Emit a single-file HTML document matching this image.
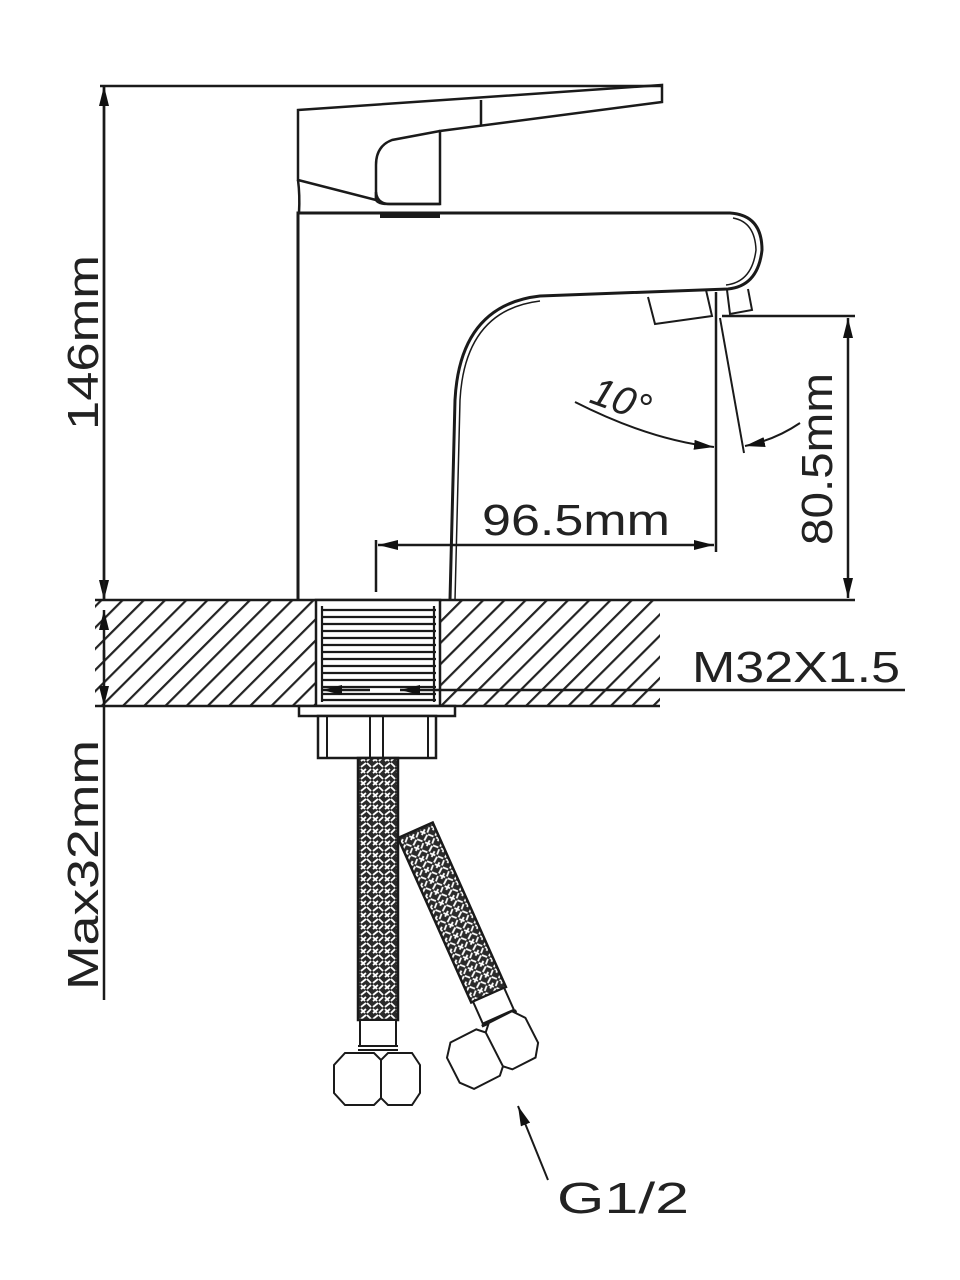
<!DOCTYPE html>
<html><head><meta charset="utf-8"><style>
html,body{margin:0;padding:0;background:#fff;}
svg{display:block;}
text{font-family:"Liberation Sans",sans-serif;fill:#222;}
</style></head><body>
<svg width="960" height="1280" viewBox="0 0 960 1280" xmlns="http://www.w3.org/2000/svg">
<defs>
<pattern id="hatch" patternUnits="userSpaceOnUse" width="15" height="15" patternTransform="rotate(45)">
<line x1="1" y1="0" x2="1" y2="15" stroke="#222" stroke-width="2.4"/>
</pattern>
<pattern id="braid" patternUnits="userSpaceOnUse" width="12" height="12">
<rect width="12" height="12" fill="#2a2a2a"/>
<path d="M1 5 L6 1 M7 5 L11 1 M1 11 L6 7 M7 7 L11 11 M1 1 L5 5" stroke="#fff" stroke-width="1.8" fill="none"/>
</pattern>
<marker id="ar" viewBox="0 0 20 10" refX="20" refY="5" markerWidth="20" markerHeight="10" markerUnits="userSpaceOnUse" orient="auto">
<path d="M0 0 L20 5 L0 10 Z" fill="#111"/>
</marker>
</defs>
<g fill="none" stroke="#1a1a1a" stroke-width="2.5">
<rect x="95" y="600" width="565" height="106" fill="url(#hatch)" stroke="none"/>
<line x1="95" y1="600" x2="855" y2="600"/>
<line x1="95" y1="706" x2="660" y2="706"/>
<rect x="316" y="600" width="124" height="106" fill="#fff" stroke="#1a1a1a"/>
<g stroke-width="2.2">
<path d="M322 610 H436 M322 617 H436 M322 624 H436 M322 631 H436 M322 638 H436 M322 645 H436 M322 652 H436 M322 659 H436 M322 666 H436 M322 673 H436 M322 680 H436 M322 687 H436 M322 694 H436 M322 700 H436"/>
<line x1="322" y1="606" x2="322" y2="702"/><line x1="434" y1="606" x2="434" y2="702"/>
</g>
<line x1="440" y1="690" x2="905" y2="690"/>
<line x1="370" y1="690" x2="322" y2="690" marker-end="url(#ar)"/>
<line x1="440" y1="690" x2="400" y2="690" marker-end="url(#ar)"/>
<path d="M298 110 L662 85 L662 102 L440 131 L440 204 L390 204 Q377 204 376 192 L376 200 L298 180 Z" fill="#fff"/>
<path d="M440 131 L392 140 Q376 146 376 165 L376 200 Q378 204 388 204 L440 204"/>
<line x1="481" y1="100" x2="481" y2="126"/>
<path d="M298 180 Q300 195 299 213"/>
<path d="M298 600 L298 213 L730 213 Q762 215 762 250 Q758 286 728 289 L540 296 Q460 305 455 400 L450 600" stroke-width="3"/>
<path d="M733 218 Q755 222 756 250 Q752 282 726 285 M540 301 Q465 310 460 400 L455 600" stroke-width="1.5"/>
<line x1="380" y1="216" x2="440" y2="216" stroke-width="4"/>
<path d="M648 297 L655 324 L712 316 L706 290 M727 290 L730 314 L752 310 L748 289" stroke-width="2"/>
<line x1="100" y1="86" x2="662" y2="86"/>
<line x1="104" y1="86" x2="104" y2="600" marker-end="url(#ar)"/>
<line x1="104" y1="600" x2="104" y2="86" marker-end="url(#ar)"/>
<line x1="104" y1="660" x2="104" y2="610" marker-end="url(#ar)"/>
<line x1="104" y1="650" x2="104" y2="706" marker-end="url(#ar)"/>
<line x1="104" y1="706" x2="104" y2="1000"/>
<line x1="722" y1="316" x2="855" y2="316"/>
<line x1="848" y1="450" x2="848" y2="318" marker-end="url(#ar)"/>
<line x1="848" y1="450" x2="848" y2="598" marker-end="url(#ar)"/>
<line x1="716" y1="292" x2="716" y2="552"/>
<line x1="376" y1="540" x2="376" y2="592"/>
<line x1="545" y1="545" x2="378" y2="545" marker-end="url(#ar)"/>
<line x1="545" y1="545" x2="714" y2="545" marker-end="url(#ar)"/>
<line x1="720" y1="318" x2="744" y2="453" stroke-width="2"/>
<path d="M575 402 Q650 440 714 447" stroke-width="2" marker-end="url(#ar)"/>
<path d="M800 423 Q775 440 745 446" stroke-width="2" marker-end="url(#ar)"/>
<rect x="299" y="706" width="156" height="10" fill="#fff"/>
<rect x="318" y="716" width="118" height="42" fill="#fff"/>
<path d="M327 716 V758 M370 716 V758 M383 716 V758 M428 716 V758" stroke-width="2"/>
<g transform="rotate(-24 398 838)">
<rect x="398" y="838" width="38" height="180" fill="url(#braid)"/>
<rect x="400" y="1018" width="34" height="24" fill="#fff" stroke-width="2"/>
<path d="M398 1044 H436" stroke-width="3"/>
</g>
<rect x="358" y="758" width="40" height="262" fill="url(#braid)"/>
<rect x="360" y="1020" width="36" height="26" fill="#fff" stroke-width="2"/>
<path d="M358 1046 H398 M358 1050 H398" stroke-width="2"/>
<path d="M345 1053 L374 1053 L381 1060 L388 1053 L412 1053 L420 1065 L420 1093 L412 1105 L388 1105 L381 1098 L374 1105 L345 1105 L334 1093 L334 1065 Z M381 1060 V1098" fill="#fff" stroke-width="2"/>
<g transform="rotate(-27 497 1048)">
<path d="M458 1022 L487 1022 L494 1029 L501 1022 L527 1022 L536 1034 L536 1062 L527 1074 L501 1074 L494 1067 L487 1074 L458 1074 L448 1062 L448 1034 Z M494 1029 V1067" fill="#fff" stroke-width="2"/>
</g>
<line x1="548" y1="1180" x2="518" y2="1106" stroke-width="2" marker-end="url(#ar)"/>
</g>
<text transform="translate(98,430) rotate(-90)" font-size="44" textLength="175" lengthAdjust="spacingAndGlyphs">146mm</text>
<text transform="translate(98,990) rotate(-90)" font-size="44" textLength="250" lengthAdjust="spacingAndGlyphs">Max32mm</text>
<text transform="translate(832,545) rotate(-90)" font-size="44" textLength="172" lengthAdjust="spacingAndGlyphs">80.5mm</text>
<text x="482" y="535" font-size="44" textLength="188" lengthAdjust="spacingAndGlyphs">96.5mm</text>
<text x="692" y="682" font-size="44" textLength="208" lengthAdjust="spacingAndGlyphs">M32X1.5</text>
<text x="557" y="1213" font-size="44" textLength="132" lengthAdjust="spacingAndGlyphs">G1/2</text>
<text transform="translate(588,402) rotate(20)" font-size="40" font-style="italic">10°</text>
</svg>
</body></html>
